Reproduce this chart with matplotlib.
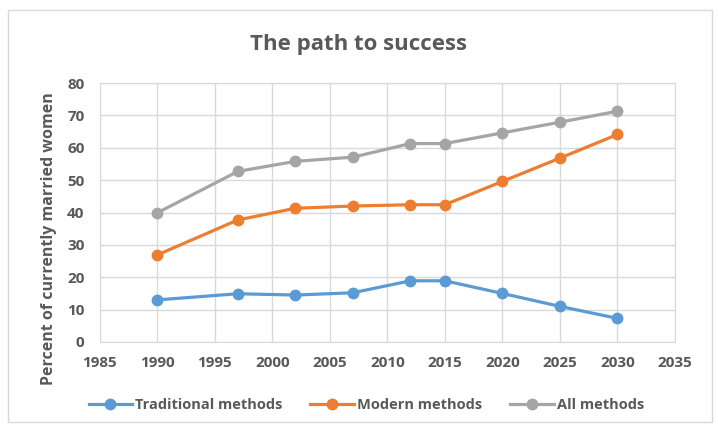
import matplotlib.pyplot as plt
from matplotlib.patches import Rectangle

plt.rcParams['font.family'] = ['Open Sans', 'DejaVu Sans']

years = [1990, 1997, 2002, 2007, 2012, 2015, 2020, 2025, 2030]
traditional = [13.0, 14.9, 14.5, 15.2, 18.9, 18.9, 15.0, 11.0, 7.3]
modern = [26.9, 37.7, 41.3, 42.0, 42.4, 42.4, 49.6, 56.8, 64.1]
all_methods = [39.9, 52.7, 55.8, 57.1, 61.3, 61.3, 64.6, 67.9, 71.3]

series = [
    ('Traditional methods', traditional, '#5B9BD5'),
    ('Modern methods', modern, '#ED7D31'),
    ('All methods', all_methods, '#A5A5A5'),
]

text_col = '#595959'
grid_col = '#D9D9D9'

fig = plt.figure(figsize=(7.18, 4.28), dpi=100)
ax = fig.add_axes([0.139, 0.201, 0.801, 0.605])

# chart frame
fig.patches.append(Rectangle((0.011, 0.014), 0.981, 0.963, transform=fig.transFigure,
                             fill=False, edgecolor=grid_col, linewidth=1))

for name, vals, col in series:
    ax.plot(years, vals, color=col, linewidth=2.3, marker='o', markersize=7.5,
            label=name, zorder=3)

ax.set_xlim(1985, 2035)
ax.set_ylim(0, 80)
ax.set_xticks(range(1985, 2036, 5))
ax.set_yticks(range(0, 81, 10))
ax.grid(True, color=grid_col, linewidth=1)
ax.set_axisbelow(True)
for s in ax.spines.values():
    s.set_color(grid_col)
ax.tick_params(length=0, labelsize=11, labelcolor=text_col)
ax.tick_params(axis='x', pad=10)
ax.tick_params(axis='y', pad=11)
for lab in ax.get_xticklabels() + ax.get_yticklabels():
    lab.set_fontweight('bold')

ax.set_ylabel('Percent of currently married women', fontsize=11.5, fontweight='bold',
              color=text_col)
ax.yaxis.set_label_coords(-0.074, 0.40)
fig.text(0.5, 0.897, 'The path to success', ha='center', va='center',
         fontsize=16, fontweight='bold', color=text_col)

leg = fig.legend(loc='center', bbox_to_anchor=(0.51, 0.053), ncol=3, frameon=False,
                 handlelength=3.0, columnspacing=1.9, handletextpad=0.2,
                 prop={'size': 10.5, 'weight': 'bold'})
for t in leg.get_texts():
    t.set_color(text_col)

fig.savefig('out.png', dpi=100)
